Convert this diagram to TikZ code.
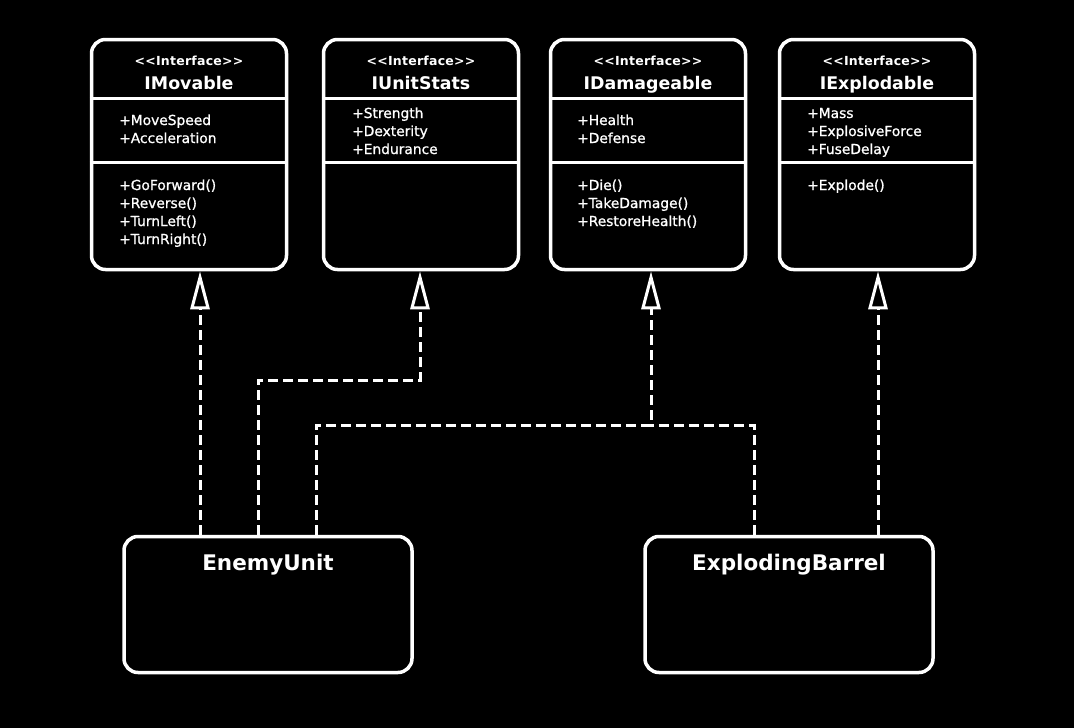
\documentclass[tikz,border=0pt]{standalone}
\usepackage{fontspec}
\setmainfont{DejaVu Sans}
\newfontfamily\stereofont{DejaVu Sans}[LetterSpace=2]
\newfontfamily\memberfont{DejaVu Sans}[FakeBold=1]
\usetikzlibrary{arrows.meta}
\usetikzlibrary{calc}

\begin{document}
\begin{tikzpicture}[x=1pt, y=-1pt,
  umlbox/.style={draw=white, fill=black, line width=3.5pt, rounded corners=14pt, inner sep=0pt},
  iface/.style={umlbox, minimum width=195pt, minimum height=230pt},
  cls/.style={umlbox, minimum width=288pt, minimum height=136pt},
  divider/.style={white, line width=3pt},
  stereo/.style={text=white, font=\stereofont\bfseries\fontsize{12.5}{14}\selectfont, anchor=base},
  ititle/.style={text=white, font=\bfseries\fontsize{17.4}{20}\selectfont, anchor=base},
  ctitle/.style={text=white, font=\bfseries\fontsize{21.5}{24}\selectfont, anchor=base},
  member/.style={text=white, font=\memberfont\fontsize{13.8}{16}\selectfont, anchor=base west, inner sep=0pt},
  link/.style={white, line width=3pt, dash pattern=on 10pt off 5pt},
  realize/.style={link, -{Triangle[fill=black, length=38pt, width=19pt]}}
]
\fill[black] (0,0) rectangle (1074,728);
\useasboundingbox (0,0) rectangle (1074,728);

% interfaces
\foreach \n/\cx/\ttl in {mov/189/IMovable, stat/421/IUnitStats, dmg/648/IDamageable, expl/877/IExplodable} {
 \node[iface] (\n) at (\cx,154.5) {};
 \draw[divider] (\n.west |- 0,98) -- (\n.east |- 0,98);
 \draw[divider] (\n.west |- 0,162) -- (\n.east |- 0,162);
 \node[stereo] (\n st) at (\cx,65) {<{}<Interface>{}>};
 \node[ititle] (\n tt) at (\cx,89) {\ttl};
}

\foreach \txt [count=\i] in {+MoveSpeed, +Acceleration}
 \node[member] (movA\i) at (119,107+18*\i) {\txt};
\foreach \txt [count=\i] in {+GoForward(), +Reverse(), +TurnLeft(), +TurnRight()}
 \node[member] (movM\i) at (119,172+18*\i) {\txt};

\foreach \txt [count=\i] in {+Strength, +Dexterity, +Endurance}
 \node[member] (statA\i) at (352,100+18*\i) {\txt};

\foreach \txt [count=\i] in {+Health, +Defense}
 \node[member] (dmgA\i) at (577,107+18*\i) {\txt};
\foreach \txt [count=\i] in {+Die(), +TakeDamage(), +RestoreHealth()}
 \node[member] (dmgM\i) at (577,172+18*\i) {\txt};

\foreach \txt [count=\i] in {+Mass, +ExplosiveForce, +FuseDelay}
 \node[member] (explA\i) at (807,100+18*\i) {\txt};
\node[member] (explM1) at (807,190) {+Explode()};

% classes
\node[cls] (enemy) at (268,604.5) {};
\node[ctitle] (enemyT) at (268,570) {EnemyUnit};
\node[cls] (barrel) at (789,604.5) {};
\node[ctitle] (barrelT) at (789,570) {ExplodingBarrel};

% realizations
\coordinate (jdmg) at (651,425);
\draw[realize] (enemy.north -| 200,0) -- (mov.south -| 200,0);
\draw[realize] (enemy.north -| 258,0) -- (258,380) -- (420,380) -- (stat.south -| 420,0);
\draw[realize] (enemy.north -| 316,0) |- (jdmg) -- (dmg.south -| jdmg);
\draw[link] (barrel.north -| 754,0) |- (jdmg);
\draw[realize] (barrel.north -| 878,0) -- (expl.south -| 878,0);
\end{tikzpicture}
\end{document}
